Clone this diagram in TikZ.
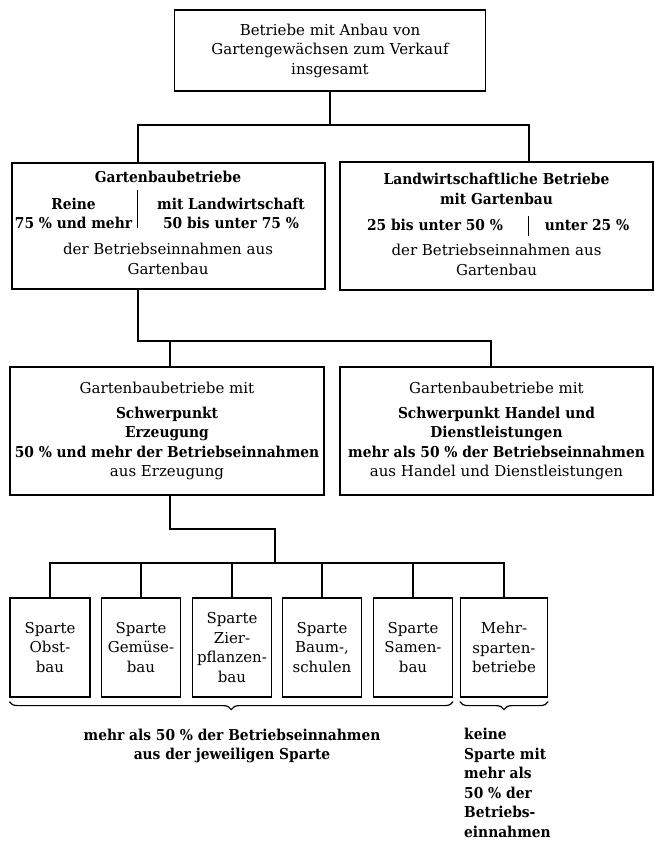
\documentclass[tikz,border=0pt]{standalone}
\usepackage{fontspec}
\setmainfont{DejaVu Serif}[BoldFeatures={FakeStretch=0.92}]
\usetikzlibrary{decorations.pathreplacing}
\newcommand{\grund}{\fontsize{15}{19.5}\selectfont}
\tikzset{
  kasten/.style={draw, line width=1.2pt, inner sep=0pt, align=center},
  linie/.style={line width=1.3pt},
  fett/.style={font=\grund\bfseries},
  klammer/.style={line width=1.2pt, decorate, decoration={brace, mirror, amplitude=8pt}}
}

\begin{document}
\begin{tikzpicture}[x=1pt, y=-1pt, font=\grund]
  \useasboundingbox (0,0) rectangle (655,841);
  % Kaesten
  \node[kasten, minimum width=311pt, minimum height=81pt] (gesamt) at (330,50.5)
    {Betriebe mit Anbau von\\Gartengewächsen zum Verkauf\\insgesamt};
  \node[kasten, minimum width=313pt, minimum height=126pt] (gartenbau) at (168.5,226) {};
  \node[kasten, minimum width=313pt, minimum height=128pt] (landwirt) at (496.5,226) {};
  \node[kasten, minimum width=314pt, minimum height=128pt] (erzeugung) at (167,431)
    {Gartenbaubetriebe mit\\[5pt]\textbf{Schwerpunkt}\\\textbf{Erzeugung}\\
     \textbf{50~\% und mehr der Betriebseinnahmen}\\aus Erzeugung};
  \node[kasten, minimum width=313pt, minimum height=128pt] (handel) at (496.5,431)
    {Gartenbaubetriebe mit\\[5pt]\textbf{Schwerpunkt Handel und}\\\textbf{Dienstleistungen}\\
     \textbf{mehr als 50~\% der Betriebseinnahmen}\\aus Handel und Dienstleistungen};
  \foreach \x/\w/\name/\txt in {50/80/obst/{Sparte\\Obst-\\bau}, 141/79/gemuese/{Sparte\\Gemüse-\\bau},
      232/79/zier/{Sparte\\Zier-\\pflanzen-\\bau}, 322/79/baum/{Sparte\\Baum-,\\schulen},
      413/79/samen/{Sparte\\Samen-\\bau}, 504/87/mehr/{Mehr-\\sparten-\\betriebe}}
    \node[kasten, minimum width=\w pt, minimum height=99pt] (\name) at (\x,647.5) {\txt};

  % Texte in den Kaesten der zweiten Reihe
  \node[fett] (gbTitel) at (168,177) {Gartenbaubetriebe};
  \node[fett, align=center] (gbRein) at (73.5,213.5) {Reine\\75~\% und mehr};
  \node[fett, align=center] (gbLand) at (231,213.5) {mit Landwirtschaft\\50 bis unter 75~\%};
  \node[align=center] (gbAnteil) at (168,259) {der Betriebseinnahmen aus\\Gartenbau};
  \draw[line width=0.9pt] (137,190) -- (137,228);
  \node[fett, align=center] (lwTitel) at (496.5,189) {Landwirtschaftliche Betriebe\\mit Gartenbau};
  \node[fett] (lwMittel) at (435,225) {25 bis unter 50~\%};
  \node[fett] (lwGering) at (587,225) {unter 25~\%};
  \node[align=center] (lwAnteil) at (496.5,260) {der Betriebseinnahmen aus\\Gartenbau};
  \draw[line width=0.9pt] (528,216) -- (528,236);

  % Verbindungen
  \coordinate (k1) at (138,125); \coordinate (k2) at (529,125);
  \draw[linie] (gesamt.south) -- (gesamt.south |- k1);
  \draw[linie] (gartenbau.north -| k1) -- (k1) -- (k2) -- (k2 |- landwirt.north);
  \coordinate (k3) at (138,341); \coordinate (k4) at (491,341);
  \draw[linie] (gartenbau.south -| k3) -- (k3) -- (k4) -- (k4 |- handel.north);
  \draw[linie] (erzeugung.north -| 170,0) -- (k3 -| 170,0);
  \coordinate (k5) at (170,529); \coordinate (k6) at (275,529); \coordinate (k7) at (275,563);
  \draw[linie] (erzeugung.south -| k5) -- (k5) -- (k6) -- (k7);
  \draw[linie] (obst.north) |- (k7) -| (mehr.north)
    foreach \n in {gemuese,zier,baum,samen} {(\n.north) -- (\n.north |- k7)};

  % Klammern und Erlaeuterungen
  \draw[klammer] ([yshift=-4pt]obst.south west) -- ([yshift=-4pt]samen.south east);
  \draw[klammer] ([yshift=-4pt]mehr.south west) -- ([yshift=-4pt]mehr.south east);
  \node[fett, align=center] (spartenText) at (232,746) {mehr als 50~\% der Betriebseinnahmen\\aus der jeweiligen Sparte};
  \node[fett, align=left, anchor=north west, inner sep=0pt] (mehrText) at (464,728)
    {keine\\Sparte mit\\mehr als\\50~\% der\\Betriebs-\\einnahmen};
\end{tikzpicture}
\end{document}
